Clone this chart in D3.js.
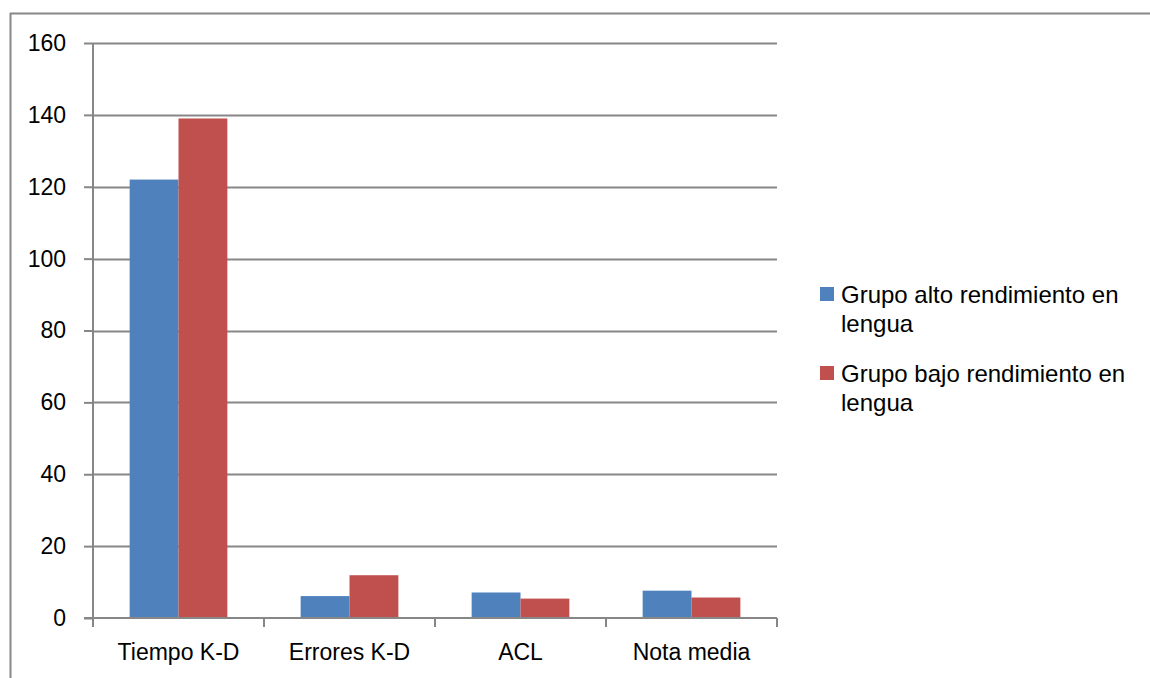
<!DOCTYPE html>
<html><head><meta charset="utf-8">
<script src="https://cdn.jsdelivr.net/npm/d3@7"></script>
<style>body{margin:0;background:#fff}svg{display:block}text{font-family:"Liberation Sans",Arial,sans-serif;fill:#000}</style>
</head><body><svg id="c" width="1150" height="678"></svg>
<script>
const categories = ["Tiempo K-D","Errores K-D","ACL","Nota media"];
const seriesNames = [["Grupo alto rendimiento en","lengua"],["Grupo bajo rendimiento en","lengua"]];
const altoValues = [122, 6.1, 7.1, 7.6];
const bajoValues = [139, 11.9, 5.4, 5.7];
const yTicks = [0,20,40,60,80,100,120,140,160];
const colors = ["#4F81BD","#C0504D"];

const svg = d3.select("#c");
const L=93, R=777, T=43, B=618;
const grid="#878787";
// outer border
svg.append("line").attr("x1",10.5).attr("x2",10.5).attr("y1",13).attr("y2",678).attr("stroke",grid).attr("stroke-width",2);
svg.append("line").attr("x1",10).attr("x2",1150).attr("y1",13.5).attr("y2",13.5).attr("stroke",grid).attr("stroke-width",2);

const x = d3.scaleBand().domain(categories).range([L,R]).paddingInner(0).paddingOuter(0);
const y = d3.scaleLinear().domain([0,160]).range([B,T]);
const series=[altoValues,bajoValues];
const bw = x.bandwidth()/3.5;

// gridlines
svg.append("g").selectAll("line").data(yTicks.filter(d=>d>0)).join("line")
 .attr("x1",L).attr("x2",R).attr("y1",d=>Math.round(y(d))+0.5).attr("y2",d=>Math.round(y(d))+0.5)
 .attr("stroke",grid).attr("stroke-width",2);

// bars
series.forEach((vals,si)=>{
  svg.append("g").selectAll("rect").data(vals).join("rect")
   .attr("x",(d,i)=>x(categories[i])+bw*0.75+si*bw)
   .attr("width",bw)
   .attr("y",d=>y(d)).attr("height",d=>B-y(d))
   .attr("fill",colors[si]);
});

// y axis
const ya = svg.append("g").attr("transform",`translate(${L},0)`)
 .call(d3.axisLeft(y).tickValues(yTicks).tickSize(9).tickPadding(18).tickFormat(d3.format("d")));
ya.select(".domain").attr("stroke",grid).attr("stroke-width",2).attr("d",`M0,${T}V${B}`);
ya.selectAll(".tick line").attr("stroke",grid).attr("stroke-width",2);
ya.selectAll("text").attr("font-size",23).attr("font-family","Liberation Sans, Arial, sans-serif").attr("fill","#000");

// x axis
const xa = svg.append("g").attr("transform",`translate(0,${B})`)
 .call(d3.axisBottom(x).tickSize(0).tickPadding(0));
xa.select(".domain").attr("stroke",grid).attr("stroke-width",2).attr("d",`M${L-9},0H${R}`);
xa.selectAll(".tick text").attr("font-size",23).attr("font-family","Liberation Sans, Arial, sans-serif").attr("fill","#000").attr("dy",0).attr("y",42);
const xt = categories.map(c=>x(c)).concat([R]);
svg.append("g").selectAll("line").data(xt).join("line")
 .attr("x1",d=>d).attr("x2",d=>d).attr("y1",B).attr("y2",B+9).attr("stroke",grid).attr("stroke-width",2);

// legend
const lg = svg.append("g");
seriesNames.forEach((lines,i)=>{
  const top = 287 + i*79;
  lg.append("rect").attr("x",820).attr("y",top).attr("width",14).attr("height",14).attr("fill",colors[i]);
  lines.forEach((t,j)=>{
    lg.append("text").attr("x",841).attr("y",top+16+j*29).attr("font-size",24).text(t);
  });
});
</script></body></html>
